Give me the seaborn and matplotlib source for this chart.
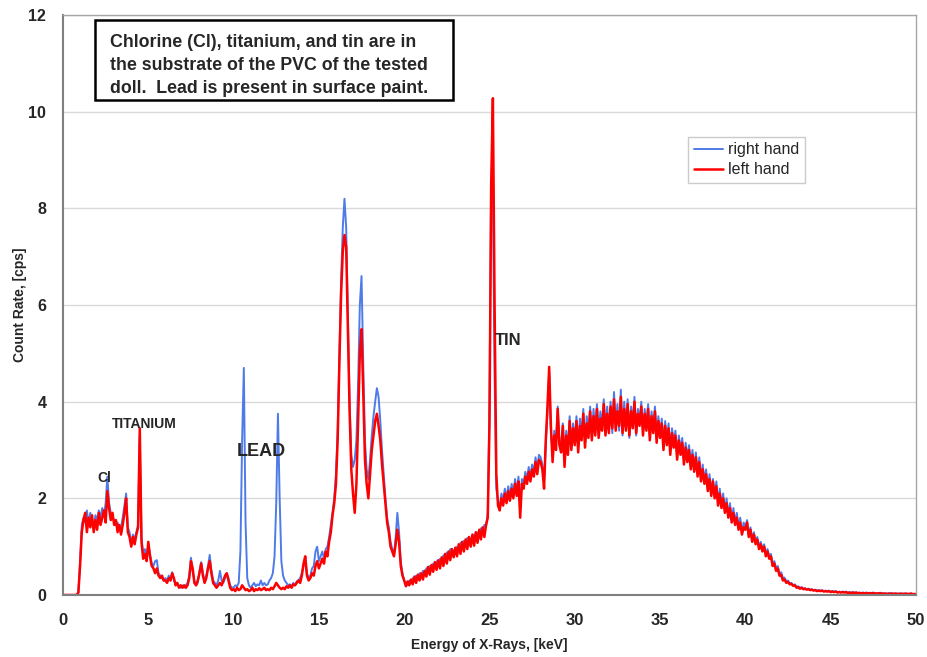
import numpy as np
import pandas as pd
import matplotlib
matplotlib.use("Agg")
import matplotlib.pyplot as plt
from matplotlib.patches import Rectangle
import seaborn as sns

# Energy grid (keV), 0.1 keV channels
energy_kev = np.round(np.linspace(0, 50, 501), 1)

left_hand = [
    0, 0, 0, 0, 0, 0, 0, 0, 0, 0.05,
    0.6, 1.3, 1.55, 1.7, 1.3, 1.6, 1.4, 1.65, 1.3, 1.55,
    1.35, 1.7, 1.45, 1.6, 1.75, 1.5, 2.15, 1.8, 1.55, 1.7,
    1.45, 1.55, 1.3, 1.45, 1.25, 1.45, 1.7, 2.0, 1.3, 1.2,
    1.0, 1.2, 1.05, 1.25, 1.4, 3.45, 1.1, 0.75, 0.85, 0.7,
    1.1, 0.8, 0.6, 0.55, 0.45, 0.55, 0.4, 0.35, 0.4, 0.3,
    0.3, 0.25, 0.35, 0.3, 0.45, 0.35, 0.2, 0.25, 0.15, 0.2,
    0.15, 0.2, 0.15, 0.2, 0.35, 0.7, 0.55, 0.25, 0.2, 0.3,
    0.45, 0.65, 0.4, 0.25, 0.35, 0.55, 0.7, 0.45, 0.25, 0.2,
    0.15, 0.2, 0.25, 0.2, 0.3, 0.4, 0.45, 0.3, 0.15, 0.1,
    0.12, 0.08, 0.15, 0.1, 0.12, 0.2, 0.15, 0.1, 0.12, 0.08,
    0.1, 0.15, 0.08, 0.12, 0.1, 0.14, 0.1, 0.12, 0.15, 0.1,
    0.12, 0.1, 0.15, 0.12, 0.18, 0.25, 0.2, 0.15, 0.12, 0.15,
    0.12, 0.18, 0.15, 0.2, 0.15, 0.22, 0.2, 0.25, 0.3, 0.25,
    0.4, 0.65, 0.8, 0.4, 0.3, 0.35, 0.45, 0.4, 0.6, 0.7,
    0.55, 0.65, 0.75, 0.65, 0.9, 0.8, 1.1, 1.3, 1.65, 1.9,
    2.3, 3.2, 4.8, 6.2, 7.1, 7.45, 7.2, 5.5, 3.8, 2.6,
    2.1, 1.7, 2.3, 3.6, 5.0, 5.5, 4.2, 2.8, 2.3, 2.0,
    2.5, 3.0, 3.3, 3.6, 3.75, 3.5, 3.2, 2.7, 2.3, 1.9,
    1.5, 1.3, 1.0, 0.9, 0.8, 1.05, 1.35, 1.1, 0.6, 0.4,
    0.3, 0.18, 0.28, 0.2, 0.32, 0.22, 0.38, 0.25, 0.42, 0.3,
    0.45, 0.32, 0.5, 0.38, 0.58, 0.42, 0.62, 0.48, 0.68, 0.52,
    0.72, 0.55, 0.78, 0.6, 0.85, 0.65, 0.9, 0.72, 0.95, 0.78,
    0.98, 0.8, 1.05, 0.85, 1.1, 0.9, 1.15, 0.95, 1.2, 1.0,
    1.25, 1.02, 1.3, 1.08, 1.35, 1.15, 1.4, 1.2, 1.45, 1.6,
    3.5, 8.5, 10.28, 6.0, 2.5, 1.85, 1.75, 2.0, 1.85, 2.1,
    1.9, 2.15, 1.95, 2.2, 2.0, 2.3, 2.05, 2.35, 1.6, 2.3,
    2.2, 2.45, 2.3, 2.55, 2.35, 2.6, 2.45, 2.75, 2.5, 2.8,
    2.75, 2.6, 2.2, 3.2, 3.9, 4.72, 3.5, 2.75, 3.3, 3.0,
    3.85, 3.1, 2.95, 3.5, 2.65, 3.3, 2.9, 3.6, 3.0, 3.45,
    3.1, 3.6, 2.95, 3.5, 3.2, 3.75, 3.05, 3.55, 3.25, 3.8,
    3.2, 3.7, 3.3, 3.85, 3.25, 3.65, 3.4, 3.95, 3.3, 3.75,
    3.35, 3.9, 3.45, 4.05, 3.4, 3.8, 3.5, 4.1, 3.35, 3.85,
    3.4, 3.95, 3.3, 3.8, 3.45, 4.0, 3.35, 3.75, 3.5, 3.9,
    3.3, 3.75, 3.4, 3.85, 3.2, 3.7, 3.35, 3.8, 3.15, 3.6,
    3.25, 3.55, 3.0, 3.5, 3.1, 3.45, 2.9, 3.35, 3.05, 3.3,
    2.8, 3.2, 2.9, 3.15, 2.7, 3.05, 2.75, 3.0, 2.6, 2.9,
    2.55, 2.85, 2.45, 2.75, 2.35, 2.6, 2.3, 2.5, 2.15, 2.4,
    2.05, 2.35, 2.0, 2.25, 1.85, 2.1, 1.8, 2.0, 1.7, 1.9,
    1.6, 1.8, 1.5, 1.7, 1.45, 1.6, 1.35, 1.5, 1.25, 1.4,
    1.35, 1.5, 1.2, 1.35, 1.1, 1.25, 1.05, 1.15, 0.95, 1.05,
    0.9, 1.0, 0.8, 0.9, 0.75, 0.8, 0.6, 0.65, 0.5, 0.55,
    0.4, 0.42, 0.3, 0.32, 0.25, 0.27, 0.22, 0.23, 0.19, 0.2,
    0.15, 0.16, 0.13, 0.15, 0.12, 0.13, 0.11, 0.12, 0.1, 0.11,
    0.09, 0.1, 0.08, 0.09, 0.08, 0.09, 0.07, 0.08, 0.07, 0.08,
    0.06, 0.07, 0.06, 0.07, 0.05, 0.06, 0.05, 0.06, 0.05, 0.06,
    0.04, 0.05, 0.04, 0.05, 0.04, 0.05, 0.04, 0.04, 0.03, 0.04,
    0.03, 0.04, 0.03, 0.04, 0.03, 0.04, 0.03, 0.03, 0.03, 0.04,
    0.03, 0.02, 0.03, 0.02, 0.03, 0.02, 0.03, 0.02, 0.03, 0.02,
    0.02, 0.03, 0.02, 0.02, 0.03, 0.02, 0.02, 0.03, 0.02, 0.02,
    0.02,
]

right_hand = [
    0, 0, 0, 0, 0, 0, 0, 0, 0, 0.05,
    0.7, 1.45, 1.6, 1.5, 1.75, 1.45, 1.7, 1.5, 1.4, 1.65,
    1.55, 1.75, 1.6, 1.8, 1.65, 1.9, 2.45, 1.9, 1.7, 1.6,
    1.55, 1.45, 1.5, 1.35, 1.4, 1.6, 1.85, 2.1, 1.4, 1.3,
    1.05, 1.25, 1.15, 1.3, 1.45, 3.3, 1.2, 0.85, 0.95, 0.75,
    1.05, 0.85, 0.65, 0.6, 0.7, 0.72, 0.45, 0.4, 0.35, 0.3,
    0.35, 0.3, 0.4, 0.3, 0.47, 0.3, 0.25, 0.2, 0.2, 0.15,
    0.2, 0.15, 0.2, 0.25, 0.4, 0.77, 0.5, 0.3, 0.2, 0.25,
    0.5, 0.68, 0.45, 0.3, 0.4, 0.6, 0.83, 0.5, 0.3, 0.25,
    0.2, 0.3, 0.5, 0.3, 0.25, 0.35, 0.45, 0.35, 0.2, 0.15,
    0.15, 0.2, 0.18, 0.25, 0.9, 3.2, 4.7, 1.5, 0.35, 0.2,
    0.15, 0.2, 0.25, 0.18, 0.22, 0.2, 0.3, 0.2, 0.25, 0.2,
    0.22, 0.3, 0.35, 0.45, 0.8, 1.9, 3.75, 2.0, 0.7, 0.4,
    0.3, 0.25, 0.2, 0.22, 0.18, 0.25, 0.2, 0.28, 0.3, 0.35,
    0.45, 0.6, 0.75, 0.45, 0.35, 0.4, 0.55, 0.6, 0.9, 1.0,
    0.7, 0.8, 0.9, 0.75, 0.95, 1.0, 1.2, 1.45, 1.7, 2.0,
    2.5, 3.4, 5.0, 6.5, 7.6, 8.2, 7.6, 5.8, 4.0, 2.9,
    2.65, 2.8, 3.2, 4.4, 6.0, 6.6, 4.8, 3.2, 2.6, 2.4,
    2.8, 3.3, 3.7, 4.0, 4.28, 4.1, 3.6, 3.0, 2.5, 2.0,
    1.6, 1.4, 1.1, 0.95, 0.85, 1.2, 1.7, 1.3, 0.7, 0.45,
    0.3, 0.25, 0.2, 0.3, 0.25, 0.35, 0.28, 0.4, 0.33, 0.45,
    0.4, 0.5, 0.45, 0.55, 0.48, 0.6, 0.55, 0.65, 0.58, 0.7,
    0.62, 0.75, 0.68, 0.82, 0.72, 0.88, 0.78, 0.95, 0.85, 0.92,
    0.88, 1.0, 0.92, 1.08, 0.98, 1.12, 1.02, 1.18, 1.05, 1.12,
    1.08, 1.25, 1.12, 1.3, 1.2, 1.38, 1.3, 1.45, 1.42, 1.7,
    4.0, 8.6, 8.3, 4.5, 2.2, 1.95, 1.8, 2.1, 1.95, 2.2,
    2.0, 2.25, 2.05, 2.3, 2.1, 2.4, 2.15, 2.45, 1.85, 2.4,
    2.3, 2.55, 2.4, 2.65, 2.45, 2.7, 2.55, 2.85, 2.6, 2.9,
    2.85, 2.7, 2.35, 3.1, 3.8, 4.6, 3.4, 2.9, 3.4, 3.1,
    3.9, 3.15, 3.05, 3.55, 2.8, 3.4, 3.0, 3.7, 3.1, 3.55,
    3.2, 3.7, 3.05, 3.65, 3.3, 3.85, 3.15, 3.7, 3.35, 3.9,
    3.3, 3.85, 3.4, 3.95, 3.35, 3.8, 3.5, 4.05, 3.4, 3.9,
    3.45, 4.0, 3.35, 4.2, 3.5, 3.95, 3.4, 4.25, 3.3, 4.0,
    3.5, 4.05, 3.25, 3.9, 3.55, 4.1, 3.3, 3.85, 3.6, 4.0,
    3.4, 3.85, 3.5, 3.95, 3.3, 3.8, 3.45, 3.9, 3.25, 3.7,
    3.35, 3.65, 3.1, 3.6, 3.2, 3.55, 3.0, 3.45, 3.15, 3.4,
    2.9, 3.3, 3.0, 3.25, 2.8, 3.15, 2.85, 3.1, 2.7, 3.0,
    2.65, 2.95, 2.5, 2.85, 2.4, 2.7, 2.35, 2.6, 2.2, 2.5,
    2.1, 2.4, 2.05, 2.35, 1.9, 2.2, 1.85, 2.1, 1.75, 2.0,
    1.65, 1.9, 1.55, 1.8, 1.5, 1.7, 1.4, 1.6, 1.3, 1.5,
    1.4, 1.55, 1.25, 1.4, 1.15, 1.3, 1.1, 1.2, 1.0, 1.1,
    0.95, 1.05, 0.85, 0.95, 0.8, 0.85, 0.65, 0.7, 0.55, 0.6,
    0.45, 0.47, 0.35, 0.36, 0.28, 0.3, 0.24, 0.25, 0.2, 0.22,
    0.17, 0.18, 0.15, 0.16, 0.13, 0.14, 0.12, 0.13, 0.11, 0.12,
    0.1, 0.11, 0.09, 0.1, 0.09, 0.1, 0.08, 0.09, 0.08, 0.09,
    0.07, 0.08, 0.07, 0.08, 0.06, 0.07, 0.06, 0.07, 0.06, 0.07,
    0.05, 0.06, 0.05, 0.06, 0.05, 0.05, 0.04, 0.05, 0.04, 0.05,
    0.04, 0.05, 0.04, 0.04, 0.04, 0.05, 0.03, 0.04, 0.03, 0.04,
    0.03, 0.04, 0.03, 0.03, 0.03, 0.04, 0.03, 0.03, 0.03, 0.03,
    0.03, 0.02, 0.03, 0.03, 0.02, 0.03, 0.02, 0.03, 0.02, 0.02,
    0.02,
]

series_names = ["right hand", "left hand"]
x_ticks = [0, 5, 10, 15, 20, 25, 30, 35, 40, 45, 50]
y_ticks = [0, 2, 4, 6, 8, 10, 12]
note_lines = [
    "Chlorine (Cl), titanium, and tin are in",
    "the substrate of the PVC of the tested",
    "doll.  Lead is present in surface paint.",
]

n = min(len(energy_kev), len(left_hand), len(right_hand))
df = pd.DataFrame({
    "energy": np.concatenate([energy_kev[:n], energy_kev[:n]]),
    "rate": np.concatenate([np.array(right_hand[:n]), np.array(left_hand[:n])]),
    "series": [series_names[0]] * n + [series_names[1]] * n,
})

sns.set_style("white")
plt.rcParams["font.family"] = ["Liberation Sans", "DejaVu Sans"]

fig = plt.figure(figsize=(9.28, 6.57), dpi=100)
ax = fig.add_axes([0.0679, 0.0944, 0.9191, 0.8826])

colors = {"right hand": "#4f7be8", "left hand": "#ff0000"}
widths = {"right hand": 1.4, "left hand": 1.8}
for name in series_names:
    sns.lineplot(data=df[df["series"] == name], x="energy", y="rate",
                 color=colors[name], linewidth=widths[name], label=name,
                 estimator=None, sort=False, ax=ax)

ax.set_xlim(0, 50)
ax.set_ylim(0, 12)
ax.set_xticks(x_ticks)
ax.set_yticks(y_ticks)
ax.set_xticklabels([str(v) for v in x_ticks], fontsize=12, fontweight="bold")
ax.set_yticklabels([str(v) for v in y_ticks], fontsize=11.5, fontweight="bold")
ax.tick_params(axis="x", direction="out", length=4, width=1, color="#808080", pad=9)
ax.tick_params(axis="y", direction="out", length=4, width=1, color="#808080", pad=8)
ax.yaxis.grid(True, color="#d9d9d9", linewidth=1)
ax.xaxis.grid(False)
ax.set_axisbelow(True)

for side in ["left", "bottom"]:
    ax.spines[side].set_color("#808080")
    ax.spines[side].set_linewidth(1.5)
for side in ["top", "right"]:
    ax.spines[side].set_color("#a6a6a6")
    ax.spines[side].set_linewidth(1.0)

ax.set_xlabel("Energy of X-Rays, [keV]", fontsize=10, fontweight="bold", labelpad=7.5)
ax.set_ylabel("Count Rate, [cps]", fontsize=10, fontweight="bold", labelpad=1)

# note box
ax.add_patch(Rectangle((1.876, 10.24), 22.86 - 1.876, 11.90 - 10.24,
                       facecolor="white", edgecolor="black", linewidth=1.8, zorder=5))
for line, yv in zip(note_lines, [11.35, 10.865, 10.38]):
    ax.text(2.75, yv, line, fontsize=12.8, fontweight="bold", ha="left",
            va="baseline", zorder=6)

ax.text(2.4, 2.42, "Cl", fontsize=10, fontweight="bold", ha="center", va="center")
ax.text(4.75, 3.54, "TITANIUM", fontsize=10, fontweight="bold", ha="center", va="center")
ax.text(11.6, 2.96, "LEAD", fontsize=13, fontweight="bold", ha="center", va="center")
ax.text(26.1, 5.26, "TIN", fontsize=12, fontweight="bold", ha="center", va="center")

leg = ax.legend(loc="upper left", bbox_to_anchor=(0.733, 0.79), fontsize=11.5,
                frameon=True, fancybox=False, edgecolor="#bfbfbf", handlelength=1.85,
                handletextpad=0.3, borderpad=0.35, labelspacing=0.3, borderaxespad=0)
leg.get_frame().set_linewidth(1.0)

fig.savefig("out.png", dpi=100)
